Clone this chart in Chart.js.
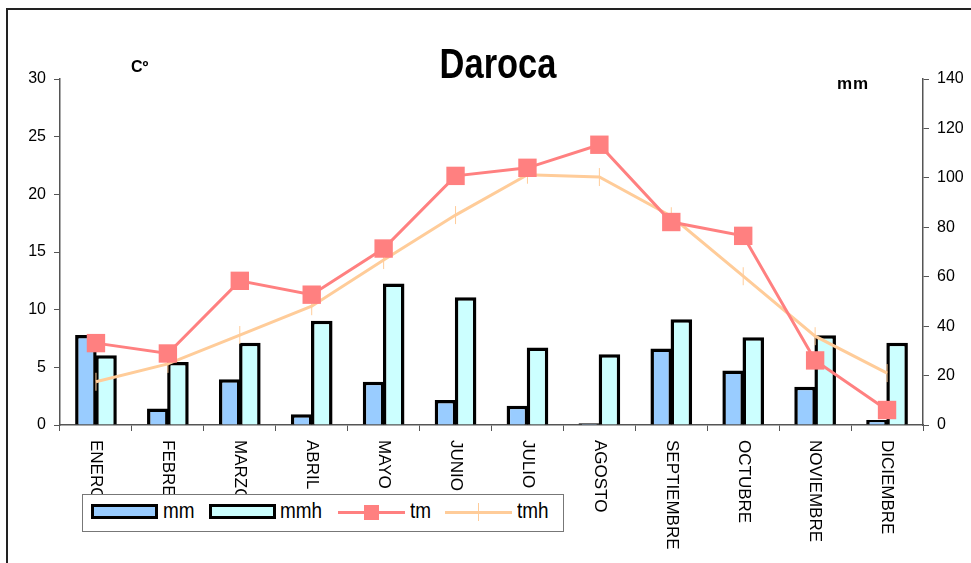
<!DOCTYPE html>
<html>
<head>
<meta charset="utf-8">
<script src="https://cdn.jsdelivr.net/npm/chart.js@4.4.1/dist/chart.umd.min.js"></script>
<style>
  html, body { margin: 0; padding: 0; background: #fff; overflow: hidden; }
  #wrap { position: relative; width: 971px; height: 563px; }
  #frame { position: absolute; left: 6px; top: 8px; width: 2000px; height: 2000px; border: 2px solid #222; }
  #chart { position: absolute; left: 0; top: 0; }
  .txt { position: absolute; color: #000; font-family: "Liberation Sans", Arial, sans-serif; white-space: nowrap; }
  #title { left: 427px; top: 40px; width: 140px; text-align: center; font-weight: bold; font-size: 42px; transform: scaleX(0.82); }
  #unitL { left: 131px; top: 58px; font-weight: bold; font-size: 16px; }
  #unitR { left: 837px; top: 74px; font-weight: bold; font-size: 17px; letter-spacing: 1px; }
  #legend { position: absolute; left: 82px; top: 494px; width: 480px; height: 36px; border: 1.5px solid #777; background: #fff; }
  .sw { position: absolute; top: 9px; width: 61px; height: 9px; border: 3px solid #000; }
  .ln { position: absolute; top: 16px; width: 67px; height: 3px; }
  .lt { position: absolute; top: 3px; font-family: "Liberation Sans", Arial, sans-serif; font-size: 22px; transform: scaleX(0.86); transform-origin: left; }
</style>
</head>
<body>
<div id="wrap">
  <div id="frame"></div>
  <canvas id="chart" width="971" height="563"></canvas>
  <div class="txt" id="title">Daroca</div>
  <div class="txt" id="unitL">Cº</div>
  <div class="txt" id="unitR">mm</div>
  <div id="legend"></div>
</div>
<script>
// Datos climáticos de Daroca
const months = ["ENERO", "FEBRERO", "MARZO", "ABRIL", "MAYO", "JUNIO", "JULIO", "AGOSTO", "SEPTIEMBRE", "OCTUBRE", "NOVIEMBRE", "DICIEMBRE"]
const mm = [36.4, 6.7, 18.5, 4.3, 17.5, 10.1, 7.8, 0.7, 31.0, 22.1, 15.5, 2.0]
const mmh = [28.2, 25.5, 33.3, 42.2, 57.3, 51.7, 31.4, 28.6, 42.8, 35.5, 36.3, 33.3]
const tm = [7.1, 6.2, 12.5, 11.3, 15.3, 21.6, 22.3, 24.3, 17.6, 16.4, 5.6, 1.3]
const tmh = [3.75, 5.3, 7.8, 10.3, 14.3, 18.2, 21.7, 21.5, 18.1, 12.9, 7.7, 4.5]
const tempTicks = [0, 5, 10, 15, 20, 25, 30]
const rainTicks = [0, 20, 40, 60, 80, 100, 120, 140]

const axisColor = "#555"

// x labels, drawn top-to-bottom like the original
const monthLabels = {
  id: "monthLabels",
  afterDraw(chart) {
    const ctx = chart.ctx
    const x = chart.scales.x
    ctx.save()
    ctx.font = "17px 'Liberation Sans', Arial, sans-serif"
    ctx.fillStyle = "#000"
    ctx.textAlign = "left"
    ctx.textBaseline = "middle"
    months.forEach((m, i) => {
      ctx.save()
      ctx.translate(x.getPixelForValue(i), x.top + 15)
      ctx.rotate(Math.PI / 2)
      ctx.fillText(m, 0, 0)
      ctx.restore()
    })
    ctx.restore()
  },
}

const chart = new Chart(document.getElementById("chart"), {
  type: "bar",
  data: {
    labels: months,
    datasets: [
      {
        type: "line", label: "tm", data: tm, yAxisID: "yT", order: 0,
        borderColor: "#FF8080", borderWidth: 3, tension: 0,
        pointStyle: "rect", pointRadius: 13, pointBackgroundColor: "#FF8080", pointBorderWidth: 0,
      },
      {
        type: "line", label: "tmh", data: tmh, yAxisID: "yT", order: 1,
        borderColor: "#FFCC99", borderWidth: 3, tension: 0,
        pointStyle: "line", pointRotation: 90, pointRadius: 9, pointBorderColor: "#FFCC99", pointBorderWidth: 1,
      },
      {
        label: "mm", data: mm, yAxisID: "yP", order: 2,
        backgroundColor: "#99CCFF", borderColor: "#000", borderWidth: 3.5,
        categoryPercentage: 0.56, barPercentage: 1.07,
      },
      {
        label: "mmh", data: mmh, yAxisID: "yP", order: 3,
        backgroundColor: "#CCFFFF", borderColor: "#000", borderWidth: 3.5,
        categoryPercentage: 0.56, barPercentage: 1.07,
      },
    ],
  },
  options: {
    responsive: false,
    animation: false,
    layout: { padding: { top: 79, left: 0, right: 0, bottom: 0 } },
    plugins: { legend: { display: false }, tooltip: { enabled: false } },
    scales: {
      x: {
        offset: true,
        grid: { offset: true, drawOnChartArea: false, drawTicks: true, tickLength: 6, color: axisColor },
        border: { color: axisColor, width: 1.5 },
        ticks: { display: false },
        afterFit: (s) => { s.height = 138 },
      },
      yT: {
        position: "left", min: 0, max: 30,
        afterBuildTicks: (s) => { s.ticks = tempTicks.map((v) => ({ value: v })) },
        grid: { drawOnChartArea: false, tickLength: 6, color: axisColor },
        border: { color: axisColor, width: 1.5 },
        ticks: { color: "#000", font: { size: 16, family: "'Liberation Sans', Arial, sans-serif" }, padding: 8 },
        afterFit: (s) => { s.width = 60 },
      },
      yP: {
        position: "right", min: 0, max: 140,
        afterBuildTicks: (s) => { s.ticks = rainTicks.map((v) => ({ value: v })) },
        grid: { drawOnChartArea: false, tickLength: 6, color: axisColor },
        border: { color: axisColor, width: 1.5 },
        ticks: { color: "#000", font: { size: 16, family: "'Liberation Sans', Arial, sans-serif" }, padding: 8 },
        afterFit: (s) => { s.width = 48 },
      },
    },
  },
  plugins: [monthLabels],
})

// Legend built from the datasets
const legend = document.getElementById("legend")
const items = [
  { ds: 2, sw: 8, text: 80 },
  { ds: 3, sw: 126, text: 197 },
  { ds: 0, sw: 255, text: 327 },
  { ds: 1, sw: 362, text: 434 },
]
items.forEach((it) => {
  const ds = chart.data.datasets[it.ds]
  const el = document.createElement("div")
  if (ds.type === "line") {
    el.className = "ln"
    el.style.background = ds.borderColor
    const mk = document.createElement("div")
    if (ds.pointStyle === "rect") {
      mk.style.cssText = "position:absolute;left:26px;top:-6px;width:15px;height:15px;background:" + ds.borderColor
    } else {
      mk.style.cssText = "position:absolute;left:33px;top:-8px;width:1px;height:18px;background:" + ds.borderColor
    }
    el.appendChild(mk)
  } else {
    el.className = "sw"
    el.style.background = ds.backgroundColor
  }
  el.style.left = it.sw + "px"
  legend.appendChild(el)
  const t = document.createElement("div")
  t.className = "lt"
  t.style.left = it.text + "px"
  t.textContent = ds.label
  legend.appendChild(t)
})
</script>
</body>
</html>
